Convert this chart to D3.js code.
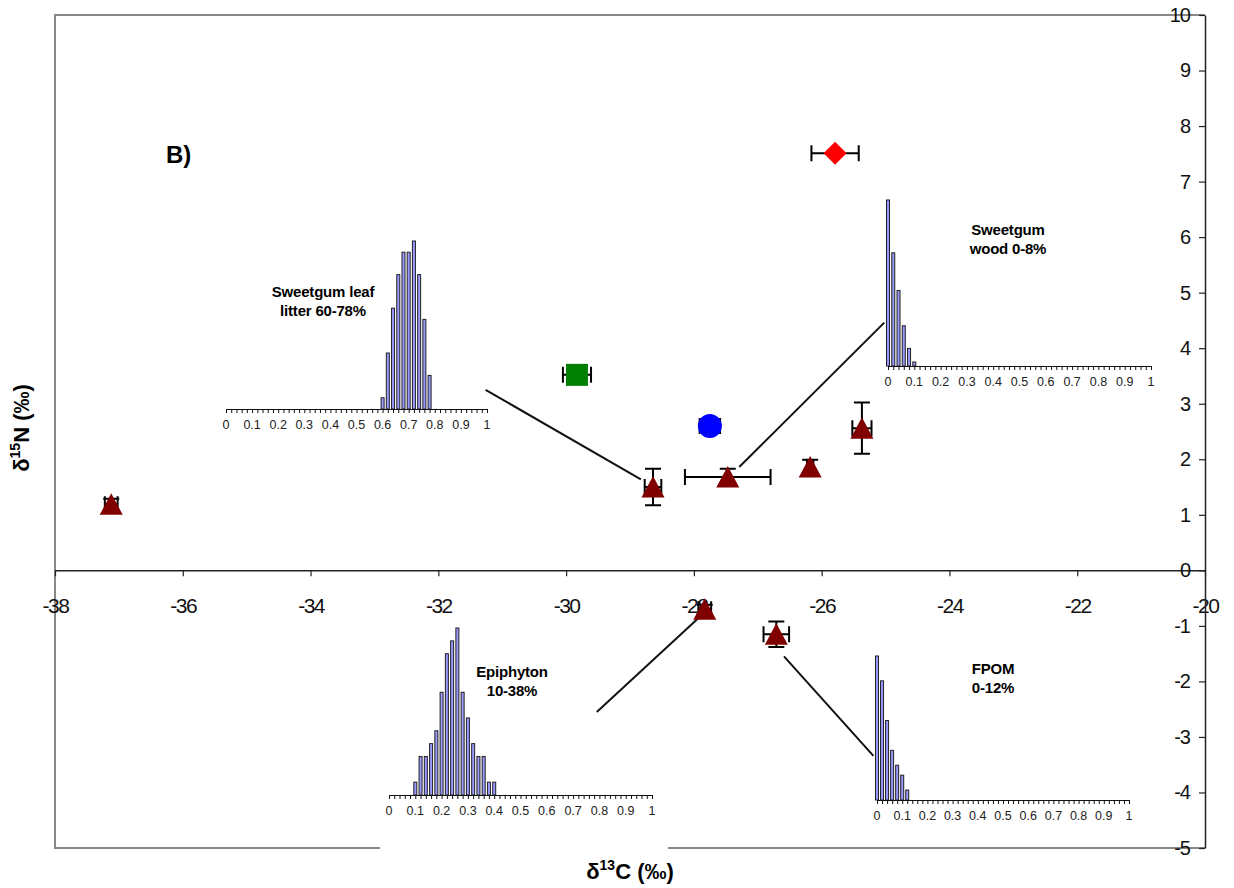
<!DOCTYPE html>
<html>
<head>
<meta charset="utf-8">
<script src="https://cdn.jsdelivr.net/npm/d3@7"></script>
<style>
  body { margin: 0; background: #fff; }
  svg { font-family: "Liberation Sans", Arial, sans-serif; }
</style>
</head>
<body>
<div id="chart"></div>
<script>
// consumers (dark red triangles): mean and SD
const consumerX    = [-37.12, -28.64, -27.47, -26.18, -25.37, -27.83, -26.71];
const consumerY    = [1.19, 1.50, 1.68, 1.86, 2.56, -0.70, -1.15];
const consumerErrX = [0.10, 0.13, 0.67, 0.05, 0.15, 0.10, 0.20];
const consumerErrY = [0.10, 0.33, 0.15, 0.13, 0.46, 0.08, 0.23];

// sources
const sourceNames = ['Sweetgum leaf litter', 'Epiphyton', 'Sweetgum wood'];
const sourceShape = ['square', 'circle', 'diamond'];
const sourceX     = [-29.83, -27.75, -25.79];
const sourceY     = [3.52, 2.60, 7.51];
const sourceErrX  = [0.22, 0.16, 0.37];
const sourceErrY  = [0.05, 0.08, 0.05];

// main axes ticks
const xTicks = d3.range(-38, -19, 2);
const yTicks = d3.range(-5, 11, 1);

// posterior histograms (proportion of diet)
const leafBins = [0.60, 0.62, 0.64, 0.66, 0.68, 0.70, 0.72, 0.74, 0.76, 0.78];
const leafFreq = [1, 5, 9, 12, 14, 14, 15, 12, 8, 3];
const woodBins = [0, 0.02, 0.04, 0.06, 0.08, 0.10];
const woodFreq = [33, 22.5, 15, 8, 3.5, 0.8];
const epiBins  = [0.10, 0.12, 0.14, 0.16, 0.18, 0.20, 0.22, 0.24, 0.26, 0.28, 0.30, 0.32, 0.34, 0.36, 0.38, 0.40];
const epiFreq  = [3, 9, 9, 12, 15, 24, 33, 36, 39, 24, 18, 12, 9, 9, 3, 3];
const fpomBins = [0, 0.02, 0.04, 0.06, 0.08, 0.10, 0.12];
const fpomFreq = [29, 24, 16, 10, 7, 5, 2];
const histTickLabels = ['0', '0.1', '0.2', '0.3', '0.4', '0.5', '0.6', '0.7', '0.8', '0.9', '1'];

// leader lines from histograms to consumers (data units)
const leaderLines = [
  [[-31.26, 3.25], [-28.83, 1.64]],
  [[-25.02, 4.46], [-27.29, 1.86]],
  [[-29.52, -2.55], [-27.94, -0.87]],
  [[-25.19, -3.34], [-26.59, -1.55]]
];

const [width, height] = [1234, 888];
const svg = d3.select('#chart').append('svg')
  .attr('width', width)
  .attr('height', height);

const x = d3.scaleLinear().domain([-38, -20]).range([55, 1205]);
const y = d3.scaleLinear().domain([-5, 10]).range([848, 15]);

// plain hyphen minus, as in the original
const fmt = d => String(d);

// plot frame (grey), right side is the y axis
svg.append('path')
  .attr('d', `M${x(-20)},${y(10)}H${x(-38)}V${y(-5)}H${x(-20)}`)
  .attr('fill', 'none')
  .attr('stroke', '#888')
  .attr('stroke-width', 2);

// x axis through y = 0
const xAxis = svg.append('g')
  .attr('transform', `translate(0,${y(0)})`)
  .call(d3.axisBottom(x).tickValues(xTicks).tickFormat(fmt).tickSize(6).tickPadding(22).tickSizeOuter(0));
xAxis.select('.domain').attr('stroke', '#222').attr('stroke-width', 1.5);
xAxis.selectAll('.tick line').attr('stroke', '#222').attr('stroke-width', 1.2);
xAxis.selectAll('.tick text')
  .attr('font-size', 21)
  .attr('fill', '#111')
  .attr('letter-spacing', -1.5);

// y axis on the right edge
const yAxis = svg.append('g')
  .attr('transform', `translate(${x(-20)},0)`)
  .call(d3.axisLeft(y).tickValues(yTicks).tickFormat(fmt).tickSize(6).tickPadding(9).tickSizeOuter(0));
yAxis.select('.domain').attr('stroke', '#222').attr('stroke-width', 1.5);
yAxis.selectAll('.tick line').attr('stroke', '#222').attr('stroke-width', 1.2);
yAxis.selectAll('.tick text')
  .attr('font-size', 20)
  .attr('fill', '#111')
  .attr('letter-spacing', -1);

// axis titles
const xTitle = svg.append('text')
  .attr('x', 630).attr('y', 879)
  .attr('text-anchor', 'middle')
  .attr('font-size', 22).attr('font-weight', 'bold');
xTitle.append('tspan').text('δ');
xTitle.append('tspan').attr('font-size', 14).attr('dy', -9).text('13');
xTitle.append('tspan').attr('dy', 9).text('C (‰)');

const yTitle = svg.append('text')
  .attr('transform', 'translate(29,428) rotate(-90)')
  .attr('text-anchor', 'middle')
  .attr('font-size', 22).attr('font-weight', 'bold');
yTitle.append('tspan').text('δ');
yTitle.append('tspan').attr('font-size', 14).attr('dy', -9).text('15');
yTitle.append('tspan').attr('dy', 9).text('N (‰)');

svg.append('text')
  .attr('x', 166).attr('y', 163)
  .attr('font-size', 24).attr('font-weight', 'bold')
  .text('B)');

// inset histograms
const insets = [
  { bins: leafBins, freq: leafFreq, title: ['Sweetgum leaf', 'litter 60-78%'],
    x0: 226, x1: 487, base: 409, h: 168, tx: 323, ty: 297, bg: [216, 225, 500, 440] },
  { bins: woodBins, freq: woodFreq, title: ['Sweetgum', 'wood 0-8%'],
    x0: 888, x1: 1151, base: 366, h: 166, tx: 1008, ty: 235, bg: [878, 185, 1165, 395] },
  { bins: epiBins, freq: epiFreq, title: ['Epiphyton', '10-38%'],
    x0: 389, x1: 652, base: 795, h: 167, tx: 512, ty: 677, bg: [380, 615, 668, 853] },
  { bins: fpomBins, freq: fpomFreq, title: ['FPOM', '0-12%'],
    x0: 877, x1: 1129, base: 800, h: 144, tx: 993, ty: 674, bg: [868, 640, 1142, 830] }
];

insets.forEach(inset => {
  const g = svg.append('g');
  const [bx0, by0, bx1, by1] = inset.bg;
  g.append('rect')
    .attr('x', bx0).attr('y', by0)
    .attr('width', bx1 - bx0).attr('height', by1 - by0)
    .attr('fill', '#fff');

  const hx = d3.scaleLinear().domain([0, 1]).range([inset.x0, inset.x1]);
  const hy = d3.scaleLinear().domain([0, d3.max(inset.freq)]).range([inset.base, inset.base - inset.h]);

  g.selectAll('rect.bar')
    .data(inset.bins)
    .join('rect')
    .attr('class', 'bar')
    .attr('x', d => hx(d) - 1.5)
    .attr('width', 3)
    .attr('y', (d, i) => hy(inset.freq[i]))
    .attr('height', (d, i) => inset.base - hy(inset.freq[i]))
    .attr('fill', '#9999ff')
    .attr('stroke', '#222')
    .attr('stroke-width', 1);

  const ax = g.append('g')
    .attr('transform', `translate(0,${inset.base})`)
    .call(d3.axisBottom(hx).tickValues(d3.range(0, 51).map(i => i / 50)).tickSize(4).tickFormat('').tickSizeOuter(0));
  ax.select('.domain').attr('stroke', '#111');
  ax.selectAll('.tick line').attr('stroke', '#111');

  g.selectAll('text.hlab')
    .data(histTickLabels)
    .join('text')
    .attr('class', 'hlab')
    .attr('x', (d, i) => hx(i / 10))
    .attr('y', inset.base + 20)
    .attr('text-anchor', 'middle')
    .attr('font-size', 12.5)
    .attr('fill', '#222')
    .text(d => d);

  g.selectAll('text.htitle')
    .data(inset.title)
    .join('text')
    .attr('class', 'htitle')
    .attr('x', inset.tx)
    .attr('y', (d, i) => inset.ty + i * 19)
    .attr('text-anchor', 'middle')
    .attr('font-size', 15)
    .attr('font-weight', 'bold')
    .attr('letter-spacing', -0.2)
    .text(d => d);
});

// leader lines
svg.append('g')
  .selectAll('line')
  .data(leaderLines)
  .join('line')
  .attr('x1', d => x(d[0][0])).attr('y1', d => y(d[0][1]))
  .attr('x2', d => x(d[1][0])).attr('y2', d => y(d[1][1]))
  .attr('stroke', '#111')
  .attr('stroke-width', 2);

// error bars
const errData = consumerX.map((v, i) => ({ x: v, y: consumerY[i], ex: consumerErrX[i], ey: consumerErrY[i] }))
  .concat(sourceX.map((v, i) => ({ x: v, y: sourceY[i], ex: sourceErrX[i], ey: sourceErrY[i] })));
const cap = 8;
const errPath = d => {
  const cx = x(d.x), cy = y(d.y);
  const xl = x(d.x - d.ex), xr = x(d.x + d.ex);
  const yt = y(d.y + d.ey), yb = y(d.y - d.ey);
  return `M${xl},${cy}H${xr}M${xl},${cy - cap}V${cy + cap}M${xr},${cy - cap}V${cy + cap}` +
         `M${cx},${yt}V${yb}M${cx - cap},${yt}H${cx + cap}M${cx - cap},${yb}H${cx + cap}`;
};
svg.append('g')
  .selectAll('path')
  .data(errData)
  .join('path')
  .attr('d', errPath)
  .attr('fill', 'none')
  .attr('stroke', '#000')
  .attr('stroke-width', 2);

// consumer triangles
svg.append('g')
  .selectAll('path')
  .data(consumerX)
  .join('path')
  .attr('transform', (d, i) => `translate(${x(d)},${y(consumerY[i])})`)
  .attr('d', 'M0,-11L11.5,10.5L-11.5,10.5Z')
  .attr('fill', '#800000');

// source markers
const shapePath = {
  square: 'M-11,-11H11V11H-11Z',
  diamond: 'M0,-11.5L11.5,0L0,11.5L-11.5,0Z'
};
const srcColor = { square: '#008000', circle: '#0000ff', diamond: '#ff0000' };
sourceX.forEach((v, i) => {
  const s = sourceShape[i];
  const t = `translate(${x(v)},${y(sourceY[i])})`;
  if (s === 'circle') {
    svg.append('circle').attr('transform', t).attr('r', 12).attr('fill', srcColor[s]);
  } else {
    svg.append('path').attr('transform', t).attr('d', shapePath[s]).attr('fill', srcColor[s]);
  }
});
</script>
</body>
</html>
